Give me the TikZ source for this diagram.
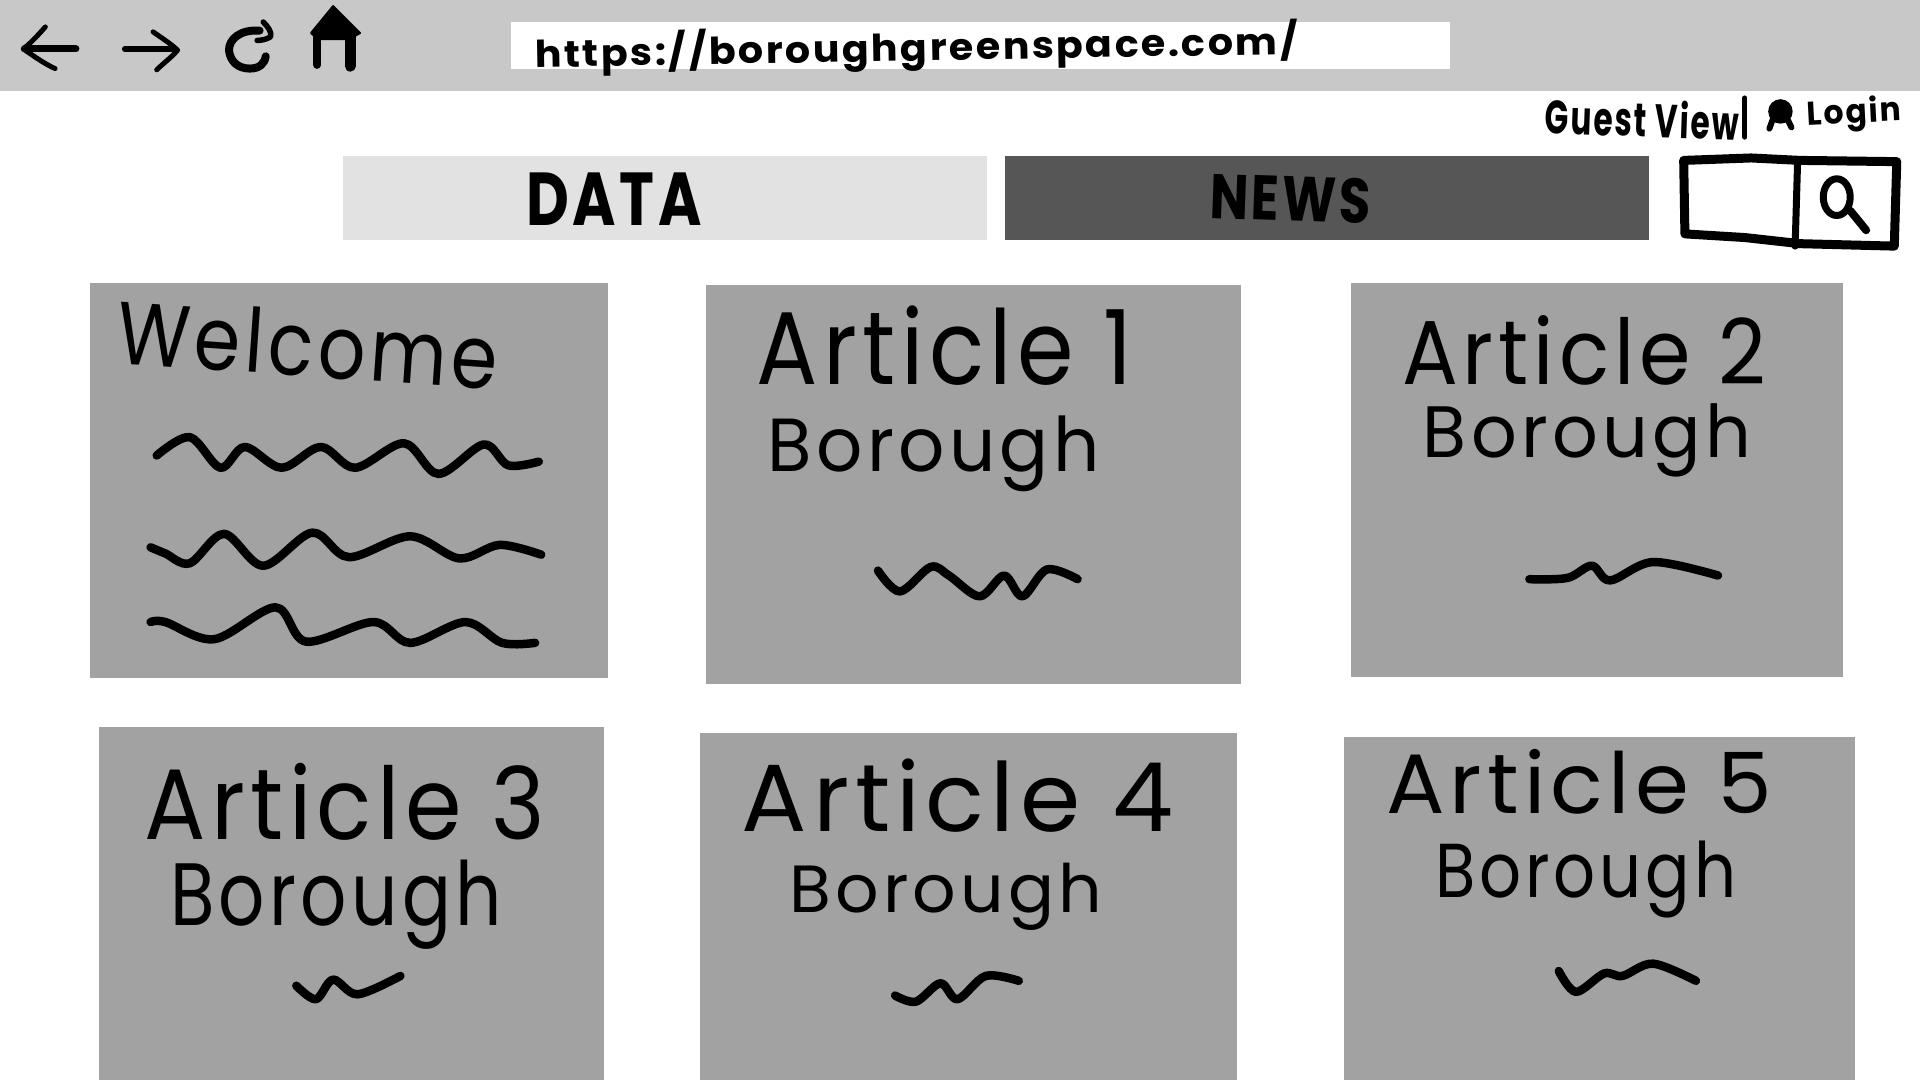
\documentclass[tikz,border=0pt]{standalone}
\usepackage{fontspec}
\usepackage{graphicx}
\newfontfamily\hand[LetterSpace=6]{Poppins}
\definecolor{barc}{HTML}{C8C8C8}
\definecolor{datac}{HTML}{E2E2E2}
\definecolor{newsc}{HTML}{565656}
\definecolor{cardc}{HTML}{A2A2A2}
\tikzset{
  inkline/.style={draw=black,line cap=round,line join=round,line width=#1},
  inkline/.default=8.5pt,
  hw/.style={inner sep=0pt,outer sep=0pt,text=black,anchor=center}
}
% name x0 y0 x1 y1 rotation text (coordinates in the 1568-wide frame)
\newcommand{\hwtext}[7]{%
  \pgfmathsetlengthmacro{\hwW}{(#4-#2)*1.2245}%
  \pgfmathsetlengthmacro{\hwH}{(#5-#3)*1.2245}%
  \node[hw,rotate=#6] (#1) at ({(#2+#4)/2},{(#3+#5)/2}) {\resizebox*{\hwW}{\hwH}{\hand #7}};%
}
\newcommand{\squig}[2][8.5pt]{\draw[inkline=#1] plot[smooth,tension=0.55] coordinates {#2};}
\begin{document}
\begin{tikzpicture}[x=1.22449pt,y=-1.22449pt]
\useasboundingbox (0,0) rectangle (1568,882);
\fill[white] (0,0) rectangle (1568,882);
% browser bar
\fill[barc] (0,0) rectangle (1568,74);
\fill[white] (417,18) rectangle (1184,56);
% tabs
\fill[datac] (280,127) rectangle (806,196);
\fill[newsc] (821,127) rectangle (1347,196);
% cards
\fill[cardc] (73.5,231) rectangle (496.5,553.5);
\fill[cardc] (576.5,233) rectangle (1013.5,559);
\fill[cardc] (1103,231) rectangle (1505.5,552.5);
\fill[cardc] (81,594) rectangle (493,882);
\fill[cardc] (572,599) rectangle (1010,882);
\fill[cardc] (1097.5,602) rectangle (1514.5,882);
% back arrow
\draw[inkline=7pt] (62,40) -- (20,40);
\draw[inkline=5pt] (37,22) .. controls (30,30) and (24,36) .. (19,40) .. controls (28,46) and (36,52) .. (45,56);
% forward arrow
\draw[inkline=6pt] (102,40) -- (143,40);
\draw[inkline=5pt] (125,26) .. controls (132,31) and (140,36) .. (145,41) .. controls (140,47) and (133,52) .. (128,57);
% refresh
\draw[inkline=8pt] (212,25) .. controls (196,24) and (187,32) .. (187,41) .. controls (188,50) and (194,56) .. (204,56) .. controls (212,56) and (216,52) .. (217,46);
\draw[inkline=5.5pt] (215,18) .. controls (219,22) and (222,26) .. (221,30) .. controls (218,32) and (214,33) .. (210,33);
% home
\fill[black,line join=round,draw=black,line width=2pt] (272,5) -- (254,27) -- (260,32) -- (285,32) -- (294,27) -- cycle;
\draw[inkline=8pt] (259,28) -- (259,53);
\draw[inkline=11pt] (286,28) -- (286,54);
% url
\hwtext{url}{437}{21}{1060}{58}{1}{\bfseries https://boroughgreenspace.com/}
% guest / login
\hwtext{guest}{1262}{81}{1420}{112}{-2}{\bfseries Guest View}
\draw[inkline=5pt] (1425,80) -- (1425,112);
\fill[black] (1454,91) ellipse (10 and 10);
\draw[inkline=6pt] (1445,105) -- (1449,94) -- (1458,94) -- (1463,104);
\hwtext{login}{1476}{79}{1553}{108}{3}{\bfseries Login}
% tab labels
\hwtext{data}{430}{141}{573}{184}{0}{\bfseries DATA}
\hwtext{news}{988}{144}{1120}{181}{-2}{\bfseries NEWS}
% search box
\draw[inkline=9pt] (1375,131) -- (1430,129) -- (1470,131) -- (1549,132) -- (1547,201) -- (1470,199) -- (1425,194) -- (1376,191) -- cycle;
\draw[inkline=7pt] (1468,133) -- (1466,201);
\draw[inkline=7pt] (1500,161) ellipse (11 and 15);
\draw[inkline=8pt] (1511,172) -- (1524,188);
% card titles
\hwtext{welcome}{96}{254}{407}{308}{-4}{Welcome}
\hwtext{a1}{618}{250}{925}{315}{0}{Article 1}
\hwtext{b1}{627}{340}{898}{402}{0}{Borough}
\hwtext{a2}{1145}{258}{1442}{315}{0}{Article 2}
\hwtext{b2}{1162}{330}{1430}{390}{0}{Borough}
\hwtext{a3}{118}{623}{445}{686}{0}{Article 3}
\hwtext{b3}{139}{702}{410}{775}{0}{Borough}
\hwtext{a4}{606}{620}{958}{680}{0}{Article 4}
\hwtext{b4}{645}{705}{900}{760}{0}{Borough}
\hwtext{a5}{1132}{612}{1447}{665}{0}{Article 5}
\hwtext{b5}{1172}{687}{1418}{750}{0}{Borough}
% squiggles
\squig{(128,372)(155,357)(180,382)(200,365)(230,382)(262,365)(290,382)(330,362)(358,387)(395,363)(415,380)(440,377)}
\squig{(123,447)(135,452)(155,460)(183,436)(215,462)(255,435)(285,455)(335,438)(375,456)(408,445)(442,453)}
\squig{(123,508)(135,508)(175,522)(225,496)(250,524)(305,508)(335,525)(380,508)(410,525)(437,525)}
\squig{(717,466)(735,483)(760,463)(775,470)(800,487)(820,470)(835,487)(855,465)(880,473)}
\squig{(1249,473)(1280,472)(1300,462)(1315,474)(1350,459)(1403,470)}
\squig{(242,805)(258,816)(272,800)(292,812)(327,797)}
\squig{(731,813)(748,818)(768,803)(782,816)(805,797)(832,801)}
\squig{(1273,793)(1287,810)(1310,795)(1325,797)(1350,787)(1385,801)}
\end{tikzpicture}
\end{document}
